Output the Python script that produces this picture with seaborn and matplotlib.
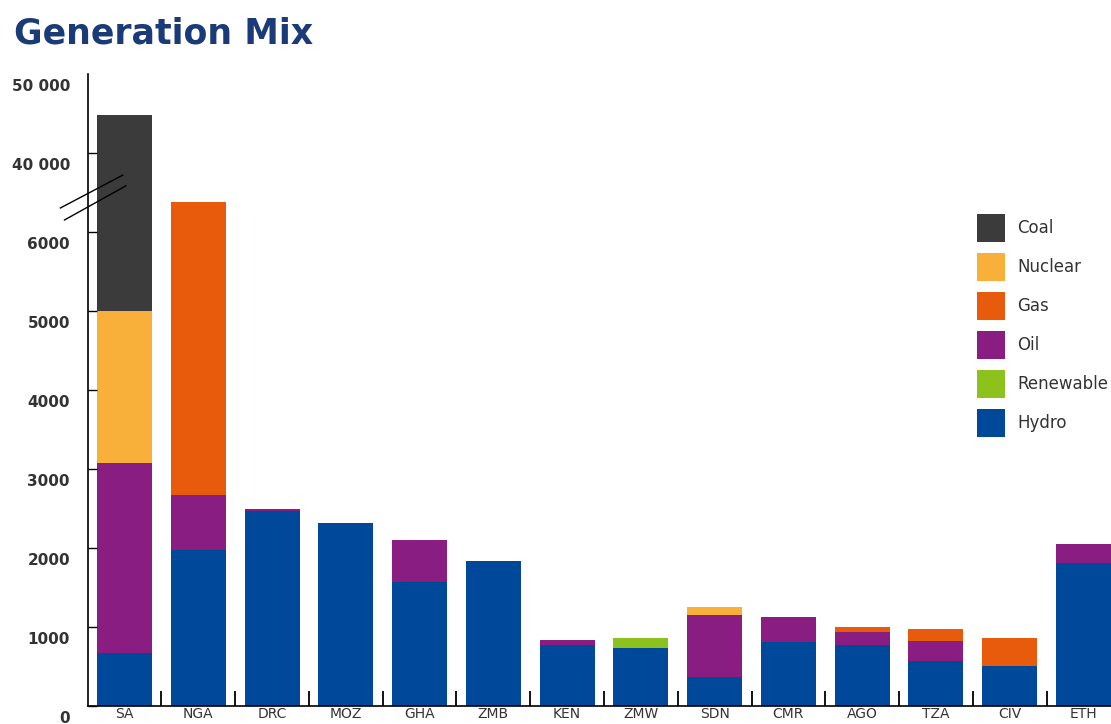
import numpy as np
import matplotlib
matplotlib.use("Agg")
import matplotlib.pyplot as plt
import matplotlib.transforms as mtransforms
from matplotlib.patches import Patch
import seaborn as sns

# Installed capacity (MW) per country
countries = ['SA', 'NGA', 'DRC', 'MOZ', 'GHA', 'ZMB', 'KEN', 'ZMW',
             'SDN', 'CMR', 'AGO', 'TZA', 'CIV', 'ETH']
hydro = [670, 1975, 2470, 2320, 1570, 1830, 770, 735, 365, 810, 770, 570, 505, 1810]
renewable = [0, 0, 0, 0, 0, 0, 0, 125, 0, 0, 0, 0, 0, 0]
oil = [2410, 700, 30, 0, 530, 0, 65, 0, 785, 315, 165, 255, 0, 240]
gas = [0, 3700, 0, 0, 0, 0, 0, 0, 0, 0, 65, 150, 355, 0]
nuclear = [1920, 0, 0, 0, 0, 0, 0, 0, 100, 0, 0, 0, 0, 0]
coal = [39800, 0, 0, 0, 0, 0, 0, 0, 0, 0, 0, 0, 0, 0]

ytick_vals = [0, 1000, 2000, 3000, 4000, 5000, 6000, 40000, 50000]
ytick_labels = ['0', '1000', '2000', '3000', '4000', '5000', '6000', '40 000', '50 000']

# stacking order bottom -> top
layers = [
    ('Hydro', hydro, '#00489a'),
    ('Renewable', renewable, '#8cc21e'),
    ('Oil', oil, '#8a1d82'),
    ('Gas', gas, '#e85a0c'),
    ('Nuclear', nuclear, '#f8b03a'),
    ('Coal', coal, '#3b3b3b'),
]


# broken y axis: linear up to 6500, squeezed gap, then 10x compressed above 35000
def forward(y):
    y = np.asarray(y, dtype=float)
    return np.where(y <= 6500, y / 1000.0,
                    np.where(y >= 35000, 6.5 + (y - 35000) / 10000.0, 6.5))


def inverse(p):
    p = np.asarray(p, dtype=float)
    return np.where(p <= 6.5, p * 1000.0, 35000 + (p - 6.5) * 10000.0)


fig = plt.figure(figsize=(11.11, 7.24), dpi=100)
ax = fig.add_axes([88 / 1111, 18 / 724, 1023 / 1111, 632 / 724])
ax.set_yscale('function', functions=(forward, inverse))

bottom = np.zeros(len(countries))
for name, vals, col in layers:
    sns.barplot(x=countries, y=vals, bottom=bottom, color=col, saturation=1,
                width=0.745, edgecolor='none', linewidth=0, ax=ax)
    bottom = bottom + np.array(vals)

ax.set_ylim(0, 50000)
ax.set_xlim(-0.495, 13.373)

ax.spines['top'].set_visible(False)
ax.spines['right'].set_visible(False)
ax.spines['left'].set_linewidth(1.2)
ax.spines['bottom'].set_linewidth(1.2)

ax.set_yticks(ytick_vals)
ax.set_yticklabels(ytick_labels, fontsize=11, fontweight='bold', color='#333333')
ax.yaxis.set_minor_locator(matplotlib.ticker.NullLocator())
ax.tick_params(axis='y', direction='in', length=6.5, width=1, pad=13)
ax.yaxis.get_major_ticks()[-1].tick1line.set_visible(False)
shift = mtransforms.ScaledTranslation(0, -0.11, fig.dpi_scale_trans)
for lab in ax.get_yticklabels():
    lab.set_transform(lab.get_transform() + shift)

ax.set_xticks(range(len(countries)))
ax.set_xticklabels(countries, fontsize=10, color='#333333')
ax.set_xticks(np.arange(0.5, len(countries) - 1, 1.0), minor=True)
ax.tick_params(axis='x', which='major', length=0, pad=1)
ax.tick_params(axis='x', which='minor', direction='in', length=11, width=1.3)
ax.set_xlabel('')
ax.set_ylabel('')

# break marks on the y axis
trans = ax.transAxes
ax.plot([-0.027, 0.034], [0.788, 0.840], color='black', lw=1, transform=trans, clip_on=False)
ax.plot([-0.023, 0.037], [0.769, 0.823], color='black', lw=1, transform=trans, clip_on=False)

# legend, top entry first
handles = [Patch(facecolor=col, edgecolor='none', label=name) for name, _, col in layers[::-1]]
fig.legend(handles=handles, loc='upper left', bbox_to_anchor=(977 / 1111, 1 - 214 / 724),
           frameon=False, fontsize=12, handlelength=1.68, handleheight=2.21,
           labelspacing=0.66, handletextpad=0.75, borderpad=0, borderaxespad=0,
           labelcolor='#333333')

fig.text(14 / 1111, 1 - 44 / 724, 'Generation Mix', fontsize=25, fontweight='bold',
         color='#1a3a78', va='baseline', ha='left')

fig.savefig('out.png', dpi=100)
